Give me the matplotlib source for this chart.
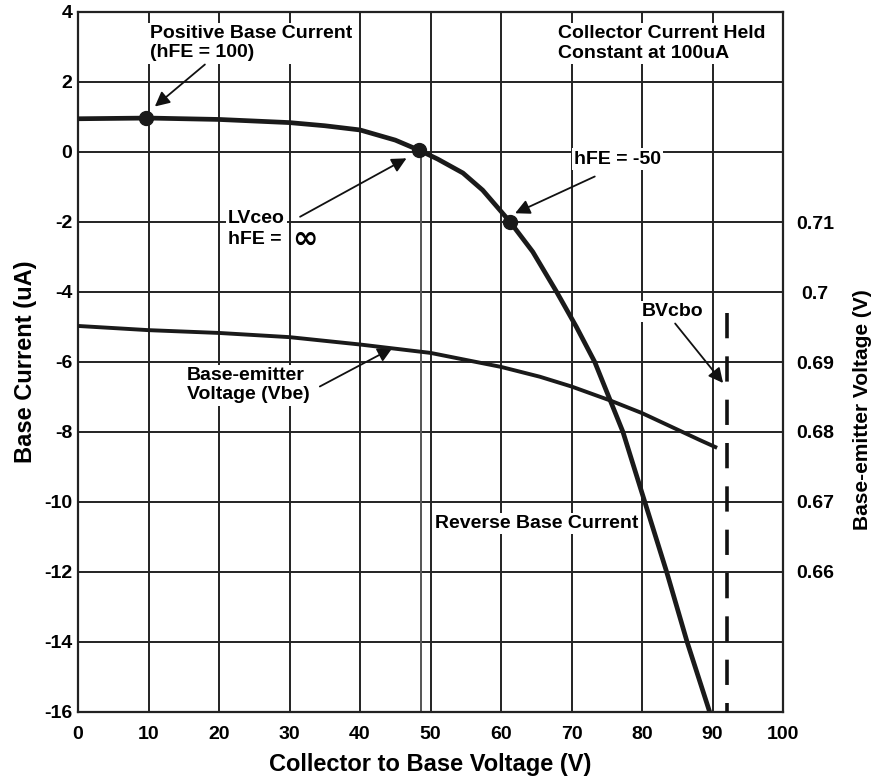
import matplotlib
matplotlib.use("Agg")
import matplotlib.pyplot as plt

# Data
vcb = [0, 10, 20, 30, 35, 40, 45, 48.4, 51, 54.6, 57.4, 61.3, 64.5, 67.9, 70.7,
       73.3, 75.5, 77.3, 80.4, 83.5, 86.4, 89.6]
ib = [0.95, 0.97, 0.93, 0.84, 0.75, 0.63, 0.34, 0.05, -0.2, -0.6, -1.09, -2.0,
      -2.85, -4.0, -5.0, -6.0, -7.1, -8.0, -10.0, -12.0, -14.0, -16.0]

vbe_x = [0, 10, 20, 30, 40, 50, 60, 65.5, 70, 75.5, 80, 88.2, 90.4]
vbe_v = [0.69515, 0.69455, 0.69415, 0.69355, 0.6925, 0.6913, 0.6893, 0.6879,
         0.6865, 0.6845, 0.6827, 0.67885, 0.67785]

marker_x = [9.6, 48.4, 61.3]
marker_y = [0.97, 0.05, -2.0]

lvceo_x = 48.7
bvcbo_x = 92.0
bvcbo_top = -4.6

x_ticks = list(range(0, 101, 10))
y_ticks = list(range(-16, 5, 2))
r_ticks = [0.66, 0.67, 0.68, 0.69, 0.70, 0.71]
r_labels = ["0.66", "0.67", "0.68", "0.69", "0.7", "0.71"]

plt.rcParams['font.family'] = ['Liberation Sans', 'DejaVu Sans']
plt.rcParams['font.weight'] = 'bold'
plt.rcParams['axes.unicode_minus'] = False

W, H = 881, 779
fig = plt.figure(figsize=(W / 100, H / 100), dpi=100)
ax = fig.add_axes([78 / W, 1 - 712 / H, (783 - 78) / W, (712 - 12) / H])
ax.set_xlim(0, 100)
ax.set_ylim(-16, 4)
ax.set_xticks(x_ticks)
ax.set_yticks(y_ticks)
ax.tick_params(length=0, labelsize=14)
ax.tick_params(axis='x', pad=10)
ax.tick_params(axis='y', pad=4)
for lab in ax.get_xticklabels() + ax.get_yticklabels():
    lab.set_fontweight('bold')
ax.grid(True, color='#222222', lw=1.4)
ax.set_axisbelow(True)
for s in ax.spines.values():
    s.set_color('#222222')
    s.set_linewidth(1.6)

ax.set_xlabel("Collector to Base Voltage (V)", fontsize=17, fontweight='bold', labelpad=7)
ax.set_ylabel("Base Current (uA)", fontsize=17, fontweight='bold', labelpad=5)

# LVceo vertical marker line
ax.plot([lvceo_x, lvceo_x], [marker_y[1], -16], color='#555555', lw=1.4, zorder=2)
# BVcbo dashed line
ax.plot([bvcbo_x, bvcbo_x], [bvcbo_top, -16], color='#111111', lw=2.6,
        linestyle=(0, (7, 5)), zorder=3)

ax.plot(vcb, ib, color='#1a1a1a', lw=3.4, zorder=5, solid_capstyle='butt',
        solid_joinstyle='round')
ax.plot(marker_x, marker_y, 'o', color='#1a1a1a', ms=10, zorder=6)

ax2 = ax.twinx()
ax2.set_ylim(0.64, 0.74)
ax2.set_yticks(r_ticks)
ax2.set_yticklabels(r_labels, fontsize=14, fontweight='bold', ha='center')
ax2.tick_params(length=0, pad=23)
for s in ax2.spines.values():
    s.set_visible(False)
ax2.plot(vbe_x, vbe_v, color='#1a1a1a', lw=2.8, zorder=5, solid_joinstyle='round')
fig.text(863 / W, 1 - 410 / H, "Base-emitter Voltage (V)", rotation=90,
         ha='center', va='center', fontsize=15, fontweight='bold')

box = dict(facecolor='white', edgecolor='none', pad=1.5)
tkw = dict(fontsize=14, fontweight='bold', zorder=7, bbox=box, linespacing=1.2)
arr = dict(arrowstyle='-|>', color='#111111', lw=1.3, mutation_scale=22,
           shrinkA=0, shrinkB=0)

ax2.set_zorder(ax.get_zorder() + 1)

ax.text(10.2, 3.11, "Positive Base Current\n(hFE = 100)", va='center', ha='left', **tkw)
ax.annotate("", xy=(10.9, 1.3), xytext=(18.0, 2.5), arrowprops=arr, zorder=7)

ax.text(68.1, 3.1, "Collector Current Held\nConstant at 100uA", va='center', ha='left', **tkw)

ax.text(70.4, -0.2, "hFE = -50", va='center', ha='left', **tkw)
ax.annotate("", xy=(62.0, -1.75), xytext=(73.3, -0.7), arrowprops=arr, zorder=7)

ax.text(21.3, -1.89, "LVceo", va='center', ha='left', **tkw)
ax.text(21.3, -2.49, "hFE = ", va='center', ha='left', **tkw)
ax.text(30.4, -2.5, "\u221e", va='center', ha='left', fontsize=22, fontweight='bold',
        family=['DejaVu Sans'], zorder=7)
ax.annotate("", xy=(46.6, -0.18), xytext=(31.5, -1.85), arrowprops=arr, zorder=7)

ax.text(15.4, -6.66, "Base-emitter\nVoltage (Vbe)", va='center', ha='left', **tkw)
ax.annotate("", xy=(44.6, -5.6), xytext=(34.3, -6.7), arrowprops=arr, zorder=7)

ax.text(80.0, -4.55, "BVcbo", va='center', ha='left', **tkw)
ax.annotate("", xy=(91.5, -6.6), xytext=(84.7, -4.9), arrowprops=arr, zorder=7)

ax.text(50.6, -10.62, "Reverse Base Current", va='center', ha='left', **tkw)

fig.savefig("out.png", dpi=100, facecolor='white')
